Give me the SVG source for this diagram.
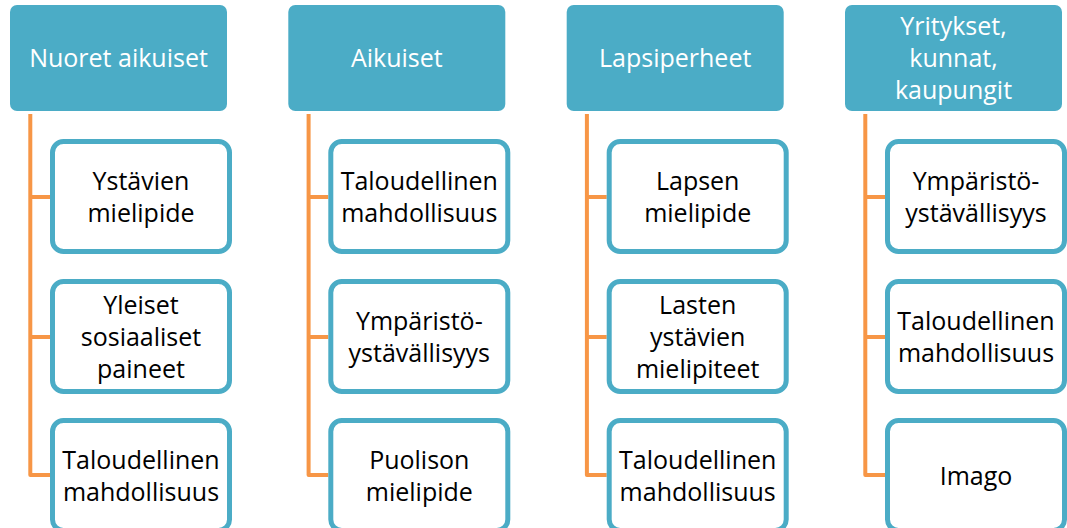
<svg xmlns="http://www.w3.org/2000/svg" width="1067" height="528" viewBox="0 0 1067 528">
<style>
.hdr{fill:#4BACC6;}
.box{fill:#FFFFFF;stroke:#4BACC6;stroke-width:5;}
.con{fill:none;stroke:#F79646;stroke-width:4;stroke-linejoin:round;stroke-linecap:butt;}
text{font-family:"Open Sans","Liberation Sans",Arial,sans-serif;font-size:25px;text-anchor:middle;}
.ht{fill:#FFFFFF;}
.bt{fill:#000000;}
</style>
<rect width="1067" height="528" fill="#FFFFFF"/>
<g id="connectors">
<path class="con" d="M30.3,114 V475 H50 M30.3,197 H50 M30.3,337 H50"/>
<path class="con" d="M308.6,114 V475 H328.3 M308.6,197 H328.3 M308.6,337 H328.3"/>
<path class="con" d="M586.9,114 V475 H606.7 M586.9,197 H606.7 M586.9,337 H606.7"/>
<path class="con" d="M865.3,114 V475 H885 M865.3,197 H885 M865.3,337 H885"/>
</g>
<g id="col1" transform="translate(10,0)">
<g id="h1"><rect class="hdr" x="0" y="5" width="217" height="106" rx="7"/><text class="ht" x="108.5" y="67">Nuoret aikuiset</text></g>
<g id="c1a"><rect class="box" x="42.5" y="141.5" width="177" height="110" rx="11"/><text class="bt" x="131" y="190">Ystävien</text><text class="bt" x="131" y="222">mielipide</text></g>
<g id="c1b"><rect class="box" x="42.5" y="281.5" width="177" height="110" rx="11"/><text class="bt" x="131" y="314">Yleiset</text><text class="bt" x="131" y="346">sosiaaliset</text><text class="bt" x="131" y="378">paineet</text></g>
<g id="c1c"><rect class="box" x="42.5" y="420.5" width="177" height="110" rx="11"/><text class="bt" x="131" y="469">Taloudellinen</text><text class="bt" x="131" y="501">mahdollisuus</text></g>
</g>
<g id="col2" transform="translate(288.3,0)">
<g id="h2"><rect class="hdr" x="0" y="5" width="217" height="106" rx="7"/><text class="ht" x="108.5" y="67">Aikuiset</text></g>
<g id="c2a"><rect class="box" x="42.5" y="141.5" width="177" height="110" rx="11"/><text class="bt" x="131" y="190">Taloudellinen</text><text class="bt" x="131" y="222">mahdollisuus</text></g>
<g id="c2b"><rect class="box" x="42.5" y="281.5" width="177" height="110" rx="11"/><text class="bt" x="131" y="330">Ympäristö-</text><text class="bt" x="131" y="362">ystävällisyys</text></g>
<g id="c2c"><rect class="box" x="42.5" y="420.5" width="177" height="110" rx="11"/><text class="bt" x="131" y="469">Puolison</text><text class="bt" x="131" y="501">mielipide</text></g>
</g>
<g id="col3" transform="translate(566.7,0)">
<g id="h3"><rect class="hdr" x="0" y="5" width="217" height="106" rx="7"/><text class="ht" x="108.5" y="67">Lapsiperheet</text></g>
<g id="c3a"><rect class="box" x="42.5" y="141.5" width="177" height="110" rx="11"/><text class="bt" x="131" y="190">Lapsen</text><text class="bt" x="131" y="222">mielipide</text></g>
<g id="c3b"><rect class="box" x="42.5" y="281.5" width="177" height="110" rx="11"/><text class="bt" x="131" y="314">Lasten</text><text class="bt" x="131" y="346">ystävien</text><text class="bt" x="131" y="378">mielipiteet</text></g>
<g id="c3c"><rect class="box" x="42.5" y="420.5" width="177" height="110" rx="11"/><text class="bt" x="131" y="469">Taloudellinen</text><text class="bt" x="131" y="501">mahdollisuus</text></g>
</g>
<g id="col4" transform="translate(845,0)">
<g id="h4"><rect class="hdr" x="0" y="5" width="217" height="106" rx="7"/><text class="ht" x="108.5" y="35">Yritykset,</text><text class="ht" x="108.5" y="67">kunnat,</text><text class="ht" x="108.5" y="99">kaupungit</text></g>
<g id="c4a"><rect class="box" x="42.5" y="141.5" width="177" height="110" rx="11"/><text class="bt" x="131" y="190">Ympäristö-</text><text class="bt" x="131" y="222">ystävällisyys</text></g>
<g id="c4b"><rect class="box" x="42.5" y="281.5" width="177" height="110" rx="11"/><text class="bt" x="131" y="330">Taloudellinen</text><text class="bt" x="131" y="362">mahdollisuus</text></g>
<g id="c4c"><rect class="box" x="42.5" y="420.5" width="177" height="110" rx="11"/><text class="bt" x="131" y="485">Imago</text></g>
</g>
</svg>
